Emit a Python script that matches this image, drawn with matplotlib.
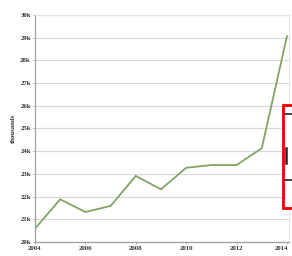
import matplotlib
matplotlib.use("Agg")
import matplotlib.pyplot as plt
import matplotlib.transforms as mtransforms
from matplotlib.patches import Rectangle
from matplotlib.lines import Line2D

years = [2004, 2005, 2006, 2007, 2008, 2009, 2010, 2011, 2012, 2013, 2014]
values = [20.59, 21.88, 21.32, 21.59, 22.91, 22.32, 23.27, 23.39, 23.39, 24.13, 29.07]
xticks = [2004, 2006, 2008, 2010, 2012, 2014]
xtick_labels = ["2004", "2006", "2008", "2010", "2012", "2014"]
yticks = [20, 21, 22, 23, 24, 25, 26, 27, 28, 29, 30]
ytick_labels = ["20k", "21k", "22k", "23k", "24k", "25k", "26k", "27k", "28k", "29k", "30k"]
ylabel = "thousands"

W, H = 292, 256
fig = plt.figure(figsize=(W / 100, H / 100), dpi=100)
fig.patch.set_facecolor("white")

ax = fig.add_axes([35 / W, 1 - 242 / H, (289 - 35) / W, (242 - 15) / H])
ax.plot(years, values, color="#82a466", linewidth=1.3, solid_joinstyle="miter")
ax.set_xlim(2004, 2014.08)
ax.set_ylim(20, 30)
ax.set_xticks(xticks)
ax.set_xticklabels(xtick_labels)
ax.set_yticks(yticks)
ax.set_yticklabels(ytick_labels)
ax.grid(axis="y", color="#d9d9d9", linewidth=0.9)
ax.set_axisbelow(True)
for s in ["top", "right"]:
    ax.spines[s].set_color("#e6e6e6")
    ax.spines[s].set_linewidth(0.8)
ax.spines["left"].set_color("#a0a0a0")
ax.spines["left"].set_linewidth(0.9)
ax.spines["bottom"].set_color("#a0a0a0")
ax.spines["bottom"].set_linewidth(0.9)
fnt = dict(family="Liberation Serif", weight="bold", size=4.9)
for lab in ax.get_xticklabels() + ax.get_yticklabels():
    lab.set_fontfamily("Liberation Serif")
    lab.set_fontweight("bold")
    lab.set_fontsize(4.9)
    lab.set_color("#333333")
ax.tick_params(axis="both", length=1.5, width=0.5, color="#888888", pad=1.5)
ax.set_ylabel(ylabel, fontdict=fnt, color="#333333", labelpad=3)

# shift the last x label inward so it stays inside the figure
last = ax.get_xticklabels()[-1]
last.set_transform(last.get_transform() +
                   mtransforms.ScaledTranslation(-5 / 100, 0, fig.dpi_scale_trans))

# red framed overlay at right edge
fig.patches.append(Rectangle((283 / W, 1 - 208 / H), 20 / W, 103 / H,
                             transform=fig.transFigure, facecolor="white",
                             edgecolor="#ee0000", linewidth=2.0, zorder=10))
for (x0, y0, x1, y1, lw) in [(285, 114, 292, 114, 1.2), (286, 148, 286, 163, 1.8),
                             (285, 180, 292, 180, 1.2)]:
    fig.lines.append(Line2D([x0 / W, x1 / W], [1 - y0 / H, 1 - y1 / H],
                            transform=fig.transFigure, color="#222222",
                            linewidth=lw, zorder=11))

fig.savefig("out.png", dpi=100, facecolor="white")
